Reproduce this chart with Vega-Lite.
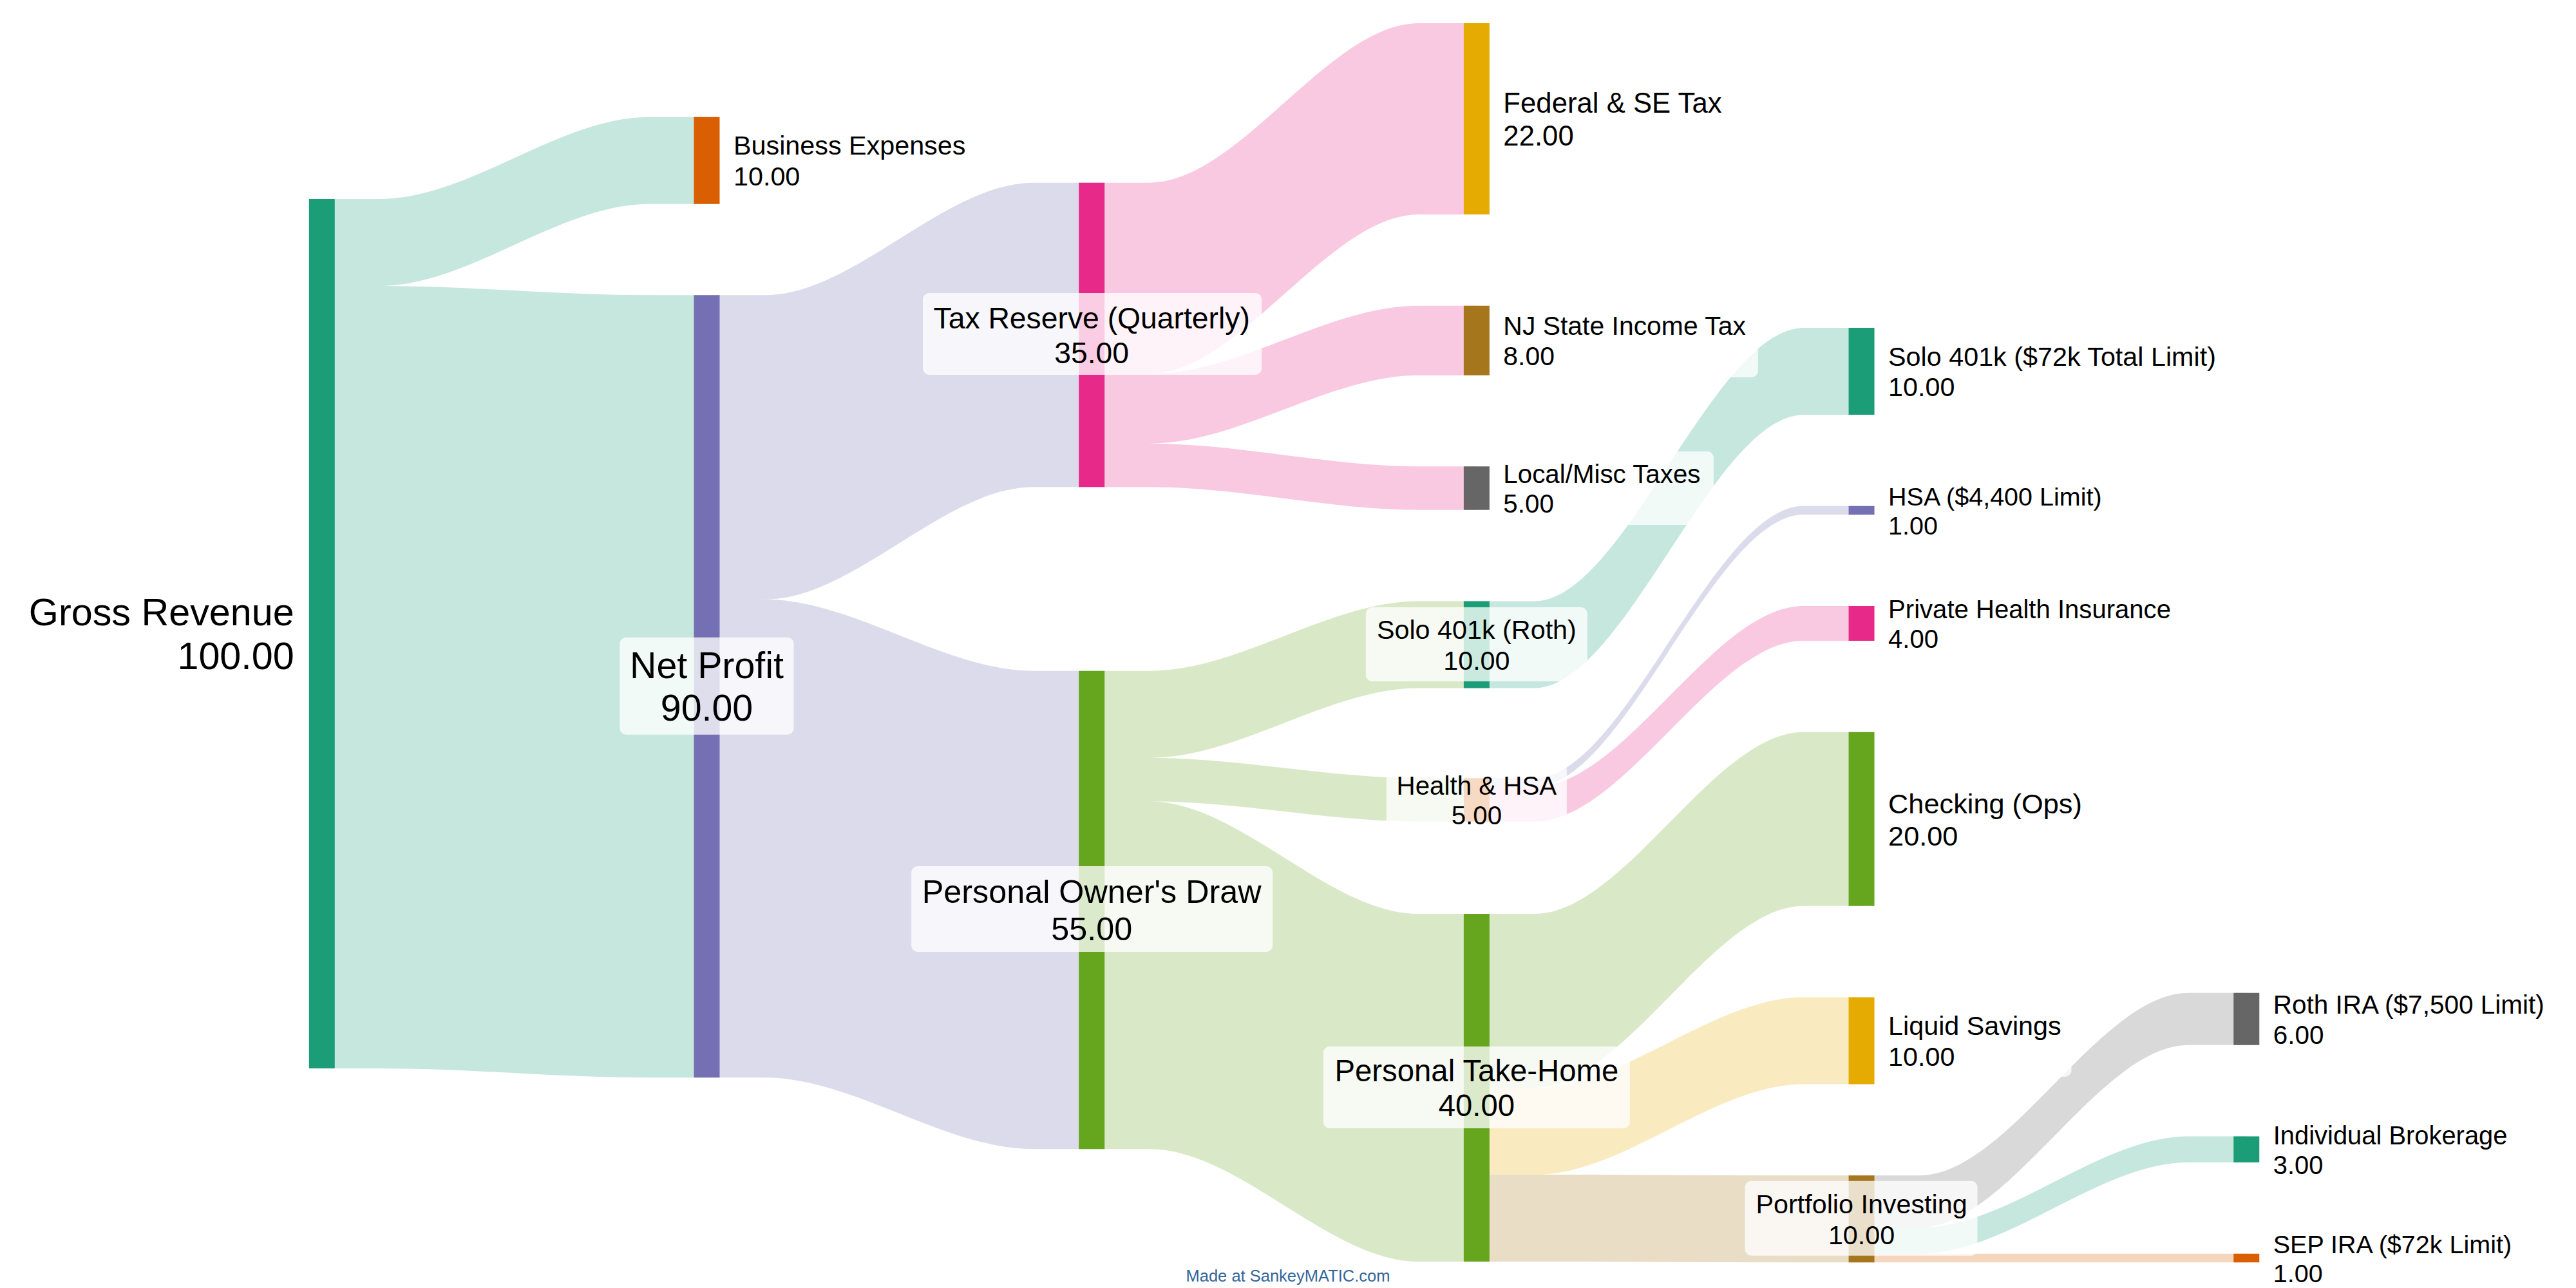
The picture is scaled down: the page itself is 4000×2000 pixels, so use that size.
{
  "$schema": "https://vega.github.io/schema/vega-lite/v6.json",
  "width": 4000,
  "height": 2000,
  "autosize": {"type": "none"},
  "padding": 0,
  "background": "white",
  "config": {"view": {"stroke": null}, "font": "Liberation Sans"},
  "datasets": {
    "nodes": [
      {"name": "Gross Revenue", "col": 0, "top": 22.89, "bottom": 122.89, "value": 100, "role": "source"},
      {"name": "Business Expenses", "col": 1, "top": 13.46, "bottom": 23.46, "value": 10, "role": "sink"},
      {"name": "Net Profit", "col": 1, "top": 33.95, "bottom": 123.95, "value": 90, "role": "middle"},
      {"name": "Tax Reserve (Quarterly)", "col": 2, "top": 21.01, "bottom": 56.01, "value": 35, "role": "middle"},
      {"name": "Personal Owner's Draw", "col": 2, "top": 77.17, "bottom": 132.17, "value": 55, "role": "middle"},
      {"name": "Federal & SE Tax", "col": 3, "top": 2.67, "bottom": 24.67, "value": 22, "role": "sink"},
      {"name": "NJ State Income Tax", "col": 3, "top": 35.16, "bottom": 43.16, "value": 8, "role": "sink"},
      {"name": "Local/Misc Taxes", "col": 3, "top": 53.65, "bottom": 58.65, "value": 5, "role": "sink"},
      {"name": "Solo 401k (Roth)", "col": 3, "top": 69.14, "bottom": 79.14, "value": 10, "role": "middle"},
      {"name": "Health & HSA", "col": 3, "top": 89.5, "bottom": 94.5, "value": 5, "role": "middle"},
      {"name": "Personal Take-Home", "col": 3, "top": 105.12, "bottom": 145.12, "value": 40, "role": "middle"},
      {"name": "Solo 401k ($72k Total Limit)", "col": 4, "top": 37.7, "bottom": 47.7, "value": 10, "role": "sink"},
      {"name": "HSA ($4,400 Limit)", "col": 4, "top": 58.2, "bottom": 59.2, "value": 1, "role": "sink"},
      {"name": "Private Health Insurance", "col": 4, "top": 69.7, "bottom": 73.7, "value": 4, "role": "sink"},
      {"name": "Checking (Ops)", "col": 4, "top": 84.2, "bottom": 104.2, "value": 20, "role": "sink"},
      {"name": "Liquid Savings", "col": 4, "top": 114.7, "bottom": 124.7, "value": 10, "role": "sink"},
      {"name": "Portfolio Investing", "col": 4, "top": 135.2, "bottom": 145.2, "value": 10, "role": "middle"},
      {"name": "Roth IRA ($7,500 Limit)", "col": 5, "top": 114.2, "bottom": 120.2, "value": 6, "role": "sink"},
      {"name": "Individual Brokerage", "col": 5, "top": 130.7, "bottom": 133.7, "value": 3, "role": "sink"},
      {"name": "SEP IRA ($72k Limit)", "col": 5, "top": 144.2, "bottom": 145.2, "value": 1, "role": "sink"}
    ],
    "links": [
      {"link": "L01", "color": "Gross Revenue", "x": 0, "top": 22.89, "bottom": 32.89},
      {"link": "L01", "color": "Gross Revenue", "x": 0.15, "top": 22.89, "bottom": 32.89},
      {"link": "L01", "color": "Gross Revenue", "x": 0.85, "top": 13.46, "bottom": 23.46},
      {"link": "L01", "color": "Gross Revenue", "x": 1, "top": 13.46, "bottom": 23.46},
      {"link": "L02", "color": "Gross Revenue", "x": 0, "top": 32.89, "bottom": 122.89},
      {"link": "L02", "color": "Gross Revenue", "x": 0.15, "top": 32.89, "bottom": 122.89},
      {"link": "L02", "color": "Gross Revenue", "x": 0.85, "top": 33.95, "bottom": 123.95},
      {"link": "L02", "color": "Gross Revenue", "x": 1, "top": 33.95, "bottom": 123.95},
      {"link": "L03", "color": "Net Profit", "x": 1, "top": 33.95, "bottom": 68.95},
      {"link": "L03", "color": "Net Profit", "x": 1.15, "top": 33.95, "bottom": 68.95},
      {"link": "L03", "color": "Net Profit", "x": 1.85, "top": 21.01, "bottom": 56.01},
      {"link": "L03", "color": "Net Profit", "x": 2, "top": 21.01, "bottom": 56.01},
      {"link": "L04", "color": "Net Profit", "x": 1, "top": 68.95, "bottom": 123.95},
      {"link": "L04", "color": "Net Profit", "x": 1.15, "top": 68.95, "bottom": 123.95},
      {"link": "L04", "color": "Net Profit", "x": 1.85, "top": 77.17, "bottom": 132.17},
      {"link": "L04", "color": "Net Profit", "x": 2, "top": 77.17, "bottom": 132.17},
      {"link": "L05", "color": "Tax Reserve (Quarterly)", "x": 2, "top": 21.01, "bottom": 43.01},
      {"link": "L05", "color": "Tax Reserve (Quarterly)", "x": 2.15, "top": 21.01, "bottom": 43.01},
      {"link": "L05", "color": "Tax Reserve (Quarterly)", "x": 2.85, "top": 2.67, "bottom": 24.67},
      {"link": "L05", "color": "Tax Reserve (Quarterly)", "x": 3, "top": 2.67, "bottom": 24.67},
      {"link": "L06", "color": "Tax Reserve (Quarterly)", "x": 2, "top": 43.01, "bottom": 51.01},
      {"link": "L06", "color": "Tax Reserve (Quarterly)", "x": 2.15, "top": 43.01, "bottom": 51.01},
      {"link": "L06", "color": "Tax Reserve (Quarterly)", "x": 2.85, "top": 35.16, "bottom": 43.16},
      {"link": "L06", "color": "Tax Reserve (Quarterly)", "x": 3, "top": 35.16, "bottom": 43.16},
      {"link": "L07", "color": "Tax Reserve (Quarterly)", "x": 2, "top": 51.01, "bottom": 56.01},
      {"link": "L07", "color": "Tax Reserve (Quarterly)", "x": 2.15, "top": 51.01, "bottom": 56.01},
      {"link": "L07", "color": "Tax Reserve (Quarterly)", "x": 2.85, "top": 53.65, "bottom": 58.65},
      {"link": "L07", "color": "Tax Reserve (Quarterly)", "x": 3, "top": 53.65, "bottom": 58.65},
      {"link": "L08", "color": "Personal Owner's Draw", "x": 2, "top": 77.17, "bottom": 87.17},
      {"link": "L08", "color": "Personal Owner's Draw", "x": 2.15, "top": 77.17, "bottom": 87.17},
      {"link": "L08", "color": "Personal Owner's Draw", "x": 2.85, "top": 69.14, "bottom": 79.14},
      {"link": "L08", "color": "Personal Owner's Draw", "x": 3, "top": 69.14, "bottom": 79.14},
      {"link": "L09", "color": "Personal Owner's Draw", "x": 2, "top": 87.17, "bottom": 92.17},
      {"link": "L09", "color": "Personal Owner's Draw", "x": 2.15, "top": 87.17, "bottom": 92.17},
      {"link": "L09", "color": "Personal Owner's Draw", "x": 2.85, "top": 89.5, "bottom": 94.5},
      {"link": "L09", "color": "Personal Owner's Draw", "x": 3, "top": 89.5, "bottom": 94.5},
      {"link": "L10", "color": "Personal Owner's Draw", "x": 2, "top": 92.17, "bottom": 132.17},
      {"link": "L10", "color": "Personal Owner's Draw", "x": 2.15, "top": 92.17, "bottom": 132.17},
      {"link": "L10", "color": "Personal Owner's Draw", "x": 2.85, "top": 105.12, "bottom": 145.12},
      {"link": "L10", "color": "Personal Owner's Draw", "x": 3, "top": 105.12, "bottom": 145.12},
      {"link": "L11", "color": "Solo 401k ($72k Total Limit)", "x": 3, "top": 69.14, "bottom": 79.14},
      {"link": "L11", "color": "Solo 401k ($72k Total Limit)", "x": 3.15, "top": 69.14, "bottom": 79.14},
      {"link": "L11", "color": "Solo 401k ($72k Total Limit)", "x": 3.85, "top": 37.7, "bottom": 47.7},
      {"link": "L11", "color": "Solo 401k ($72k Total Limit)", "x": 4, "top": 37.7, "bottom": 47.7},
      {"link": "L12", "color": "HSA ($4,400 Limit)", "x": 3, "top": 89.5, "bottom": 90.5},
      {"link": "L12", "color": "HSA ($4,400 Limit)", "x": 3.15, "top": 89.5, "bottom": 90.5},
      {"link": "L12", "color": "HSA ($4,400 Limit)", "x": 3.85, "top": 58.2, "bottom": 59.2},
      {"link": "L12", "color": "HSA ($4,400 Limit)", "x": 4, "top": 58.2, "bottom": 59.2},
      {"link": "L13", "color": "Private Health Insurance", "x": 3, "top": 90.5, "bottom": 94.5},
      {"link": "L13", "color": "Private Health Insurance", "x": 3.15, "top": 90.5, "bottom": 94.5},
      {"link": "L13", "color": "Private Health Insurance", "x": 3.85, "top": 69.7, "bottom": 73.7},
      {"link": "L13", "color": "Private Health Insurance", "x": 4, "top": 69.7, "bottom": 73.7},
      {"link": "L14", "color": "Checking (Ops)", "x": 3, "top": 105.12, "bottom": 125.12},
      {"link": "L14", "color": "Checking (Ops)", "x": 3.15, "top": 105.12, "bottom": 125.12},
      {"link": "L14", "color": "Checking (Ops)", "x": 3.85, "top": 84.2, "bottom": 104.2},
      {"link": "L14", "color": "Checking (Ops)", "x": 4, "top": 84.2, "bottom": 104.2},
      {"link": "L15", "color": "Liquid Savings", "x": 3, "top": 125.12, "bottom": 135.12},
      {"link": "L15", "color": "Liquid Savings", "x": 3.15, "top": 125.12, "bottom": 135.12},
      {"link": "L15", "color": "Liquid Savings", "x": 3.85, "top": 114.7, "bottom": 124.7},
      {"link": "L15", "color": "Liquid Savings", "x": 4, "top": 114.7, "bottom": 124.7},
      {"link": "L16", "color": "Portfolio Investing", "x": 3, "top": 135.12, "bottom": 145.12},
      {"link": "L16", "color": "Portfolio Investing", "x": 3.15, "top": 135.12, "bottom": 145.12},
      {"link": "L16", "color": "Portfolio Investing", "x": 3.85, "top": 135.2, "bottom": 145.2},
      {"link": "L16", "color": "Portfolio Investing", "x": 4, "top": 135.2, "bottom": 145.2},
      {"link": "L17", "color": "Roth IRA ($7,500 Limit)", "x": 4, "top": 135.2, "bottom": 141.2},
      {"link": "L17", "color": "Roth IRA ($7,500 Limit)", "x": 4.15, "top": 135.2, "bottom": 141.2},
      {"link": "L17", "color": "Roth IRA ($7,500 Limit)", "x": 4.85, "top": 114.2, "bottom": 120.2},
      {"link": "L17", "color": "Roth IRA ($7,500 Limit)", "x": 5, "top": 114.2, "bottom": 120.2},
      {"link": "L18", "color": "Individual Brokerage", "x": 4, "top": 141.2, "bottom": 144.2},
      {"link": "L18", "color": "Individual Brokerage", "x": 4.15, "top": 141.2, "bottom": 144.2},
      {"link": "L18", "color": "Individual Brokerage", "x": 4.85, "top": 130.7, "bottom": 133.7},
      {"link": "L18", "color": "Individual Brokerage", "x": 5, "top": 130.7, "bottom": 133.7},
      {"link": "L19", "color": "SEP IRA ($72k Limit)", "x": 4, "top": 144.2, "bottom": 145.2},
      {"link": "L19", "color": "SEP IRA ($72k Limit)", "x": 4.15, "top": 144.2, "bottom": 145.2},
      {"link": "L19", "color": "SEP IRA ($72k Limit)", "x": 4.85, "top": 144.2, "bottom": 145.2},
      {"link": "L19", "color": "SEP IRA ($72k Limit)", "x": 5, "top": 144.2, "bottom": 145.2}
    ]
  },
  "layer": [
    {
      "data": {"name": "links"},
      "mark": {"type": "area", "interpolate": "monotone", "opacity": 0.25},
      "encoding": {
        "x": {"field": "x", "type": "quantitative", "scale": {"domain": [-0.8278, 5.8478], "nice": false, "zero": false}, "axis": null},
        "y": {"field": "top", "type": "quantitative", "stack": null, "scale": {"domain": [0, 148.148], "reverse": true, "nice": false, "zero": false}, "axis": null},
        "y2": {"field": "bottom"},
        "detail": {"field": "link", "type": "nominal"},
        "color": {
          "field": "color", "type": "nominal", "legend": null,
          "scale": {
            "domain": ["Gross Revenue", "Business Expenses", "Net Profit", "Tax Reserve (Quarterly)", "Personal Owner's Draw", "Federal & SE Tax", "NJ State Income Tax", "Local/Misc Taxes", "Solo 401k (Roth)", "Health & HSA", "Personal Take-Home", "Solo 401k ($72k Total Limit)", "HSA ($4,400 Limit)", "Private Health Insurance", "Checking (Ops)", "Liquid Savings", "Portfolio Investing", "Roth IRA ($7,500 Limit)", "Individual Brokerage", "SEP IRA ($72k Limit)"],
            "range": ["#1b9e77", "#d95f02", "#7570b3", "#e7298a", "#66a61e", "#e6ab02", "#a6761d", "#666666", "#1b9e77", "#d95f02", "#66a61e", "#1b9e77", "#7570b3", "#e7298a", "#66a61e", "#e6ab02", "#a6761d", "#666666", "#1b9e77", "#d95f02"]
          }
        }
      }
    },
    {
      "data": {"name": "nodes"},
      "mark": {"type": "bar", "width": 40},
      "encoding": {
        "x": {"field": "col", "type": "quantitative"},
        "y": {"field": "top", "type": "quantitative", "stack": null},
        "y2": {"field": "bottom"},
        "color": {"field": "name", "type": "nominal", "legend": null}
      }
    },
    {
      "data": {"name": "nodes"},
      "transform": [
        {"filter": {"field": "name", "oneOf": ["Net Profit", "Tax Reserve (Quarterly)", "Personal Owner's Draw", "Personal Take-Home", "Solo 401k (Roth)", "Health & HSA", "Portfolio Investing", "NJ State Income Tax", "Local/Misc Taxes", "Liquid Savings"]}},
        {"fold": ["top", "bottom"], "as": ["edge", "pos"]},
        {"aggregate": [{"op": "mean", "field": "pos", "as": "mid"}], "groupby": ["name", "col"]}
      ],
      "mark": {"type": "point", "filled": true, "size": 4, "fill": "white", "opacity": 0.77, "strokeWidth": 0},
      "encoding": {
        "x": {"field": "col", "type": "quantitative"},
        "y": {"field": "mid", "type": "quantitative"},
        "shape": {
          "field": "name", "type": "nominal", "legend": null,
          "scale": {
            "domain": ["Net Profit", "Tax Reserve (Quarterly)", "Personal Owner's Draw", "Personal Take-Home", "Solo 401k (Roth)", "Health & HSA", "Portfolio Investing", "NJ State Income Tax", "Local/Misc Taxes", "Liquid Savings"],
            "range": [
              "M-125,-76H125A10,10,0,0,1,135,-66V65A10,10,0,0,1,125,75H-125A10,10,0,0,1,-135,65V-66A10,10,0,0,1,-125,-76Z",
              "M-252,-65H254A10,10,0,0,1,264,-55V52A10,10,0,0,1,254,62H-252A10,10,0,0,1,-262,52V-55A10,10,0,0,1,-252,-65Z",
              "M-270,-68H271A10,10,0,0,1,281,-58V55A10,10,0,0,1,271,65H-270A10,10,0,0,1,-280,55V-58A10,10,0,0,1,-270,-68Z",
              "M-228,-64H228A10,10,0,0,1,238,-54V53A10,10,0,0,1,228,63H-228A10,10,0,0,1,-238,53V-54A10,10,0,0,1,-228,-64Z",
              "M-162,-58H162A10,10,0,0,1,172,-48V47A10,10,0,0,1,162,57H-162A10,10,0,0,1,-172,47V-48A10,10,0,0,1,-162,-58Z",
              "M-130,-56H130A10,10,0,0,1,140,-46V47A10,10,0,0,1,130,57H-130A10,10,0,0,1,-140,47V-46A10,10,0,0,1,-130,-56Z",
              "M-171,-59H170A10,10,0,0,1,180,-49V47A10,10,0,0,1,170,57H-171A10,10,0,0,1,-181,47V-49A10,10,0,0,1,-171,-59Z",
              "M36,-58H427A10,10,0,0,1,437,-48V47A10,10,0,0,1,427,57H36A10,10,0,0,1,26,47V-48A10,10,0,0,1,36,-58Z",
              "M36,-57H358A10,10,0,0,1,368,-47V47A10,10,0,0,1,358,57H36A10,10,0,0,1,26,47V-47A10,10,0,0,1,36,-57Z",
              "M36,-58H316A10,10,0,0,1,326,-48V46A10,10,0,0,1,316,56H36A10,10,0,0,1,26,46V-48A10,10,0,0,1,36,-58Z"
            ]
          }
        }
      }
    },
    {
      "data": {"name": "nodes"},
      "transform": [
        {"filter": {"field": "role", "equal": "middle"}},
        {"fold": ["top", "bottom"], "as": ["edge", "pos"]},
        {"aggregate": [{"op": "mean", "field": "pos", "as": "mid"}], "groupby": ["name", "col", "value"]}
      ],
      "mark": {"type": "text", "align": "center", "baseline": "middle", "dy": {"expr": "3 - (39.3 + 0.2 * datum.value) * 0.5775"}, "color": "#000000", "lineHeight": {"expr": "(39.3 + 0.2 * datum.value) * 1.155"}},
      "encoding": {
        "x": {"field": "col", "type": "quantitative"},
        "y": {"field": "mid", "type": "quantitative"},
        "size": {"field": "value", "type": "quantitative", "legend": null, "scale": {"domain": [0, 100], "range": [39.3, 59.3], "zero": false}},
        "text": {"value": {"expr": "[datum.name, format(datum.value, '.2f')]"}}
      }
    },
    {
      "data": {"name": "nodes"},
      "transform": [
        {"filter": {"field": "role", "equal": "sink"}},
        {"fold": ["top", "bottom"], "as": ["edge", "pos"]},
        {"aggregate": [{"op": "mean", "field": "pos", "as": "mid"}], "groupby": ["name", "col", "value"]}
      ],
      "mark": {"type": "text", "align": "left", "baseline": "middle", "dx": 41.5, "dy": {"expr": "3 - (39.3 + 0.2 * datum.value) * 0.5775"}, "color": "#000000", "lineHeight": {"expr": "(39.3 + 0.2 * datum.value) * 1.155"}},
      "encoding": {
        "x": {"field": "col", "type": "quantitative"},
        "y": {"field": "mid", "type": "quantitative"},
        "size": {"field": "value", "type": "quantitative", "legend": null},
        "text": {"value": {"expr": "[datum.name, format(datum.value, '.2f')]"}}
      }
    },
    {
      "data": {"name": "nodes"},
      "transform": [
        {"filter": {"field": "role", "equal": "source"}},
        {"fold": ["top", "bottom"], "as": ["edge", "pos"]},
        {"aggregate": [{"op": "mean", "field": "pos", "as": "mid"}], "groupby": ["name", "col", "value"]}
      ],
      "mark": {"type": "text", "align": "right", "baseline": "middle", "dx": -43, "dy": {"expr": "3 - (39.3 + 0.2 * datum.value) * 0.5775"}, "color": "#000000", "lineHeight": {"expr": "(39.3 + 0.2 * datum.value) * 1.155"}},
      "encoding": {
        "x": {"field": "col", "type": "quantitative"},
        "y": {"field": "mid", "type": "quantitative"},
        "size": {"field": "value", "type": "quantitative", "legend": null},
        "text": {"value": {"expr": "[datum.name, format(datum.value, '.2f')]"}}
      }
    },
    {
      "data": {"values": [{"credit": "Made at SankeyMATIC.com"}]},
      "mark": {"type": "text", "fontSize": 25.5, "color": "#336699", "align": "center", "baseline": "alphabetic"},
      "encoding": {
        "x": {"datum": 2.51, "type": "quantitative"},
        "y": {"datum": 147.4, "type": "quantitative"},
        "text": {"field": "credit", "type": "nominal"}
      }
    }
  ]
}
